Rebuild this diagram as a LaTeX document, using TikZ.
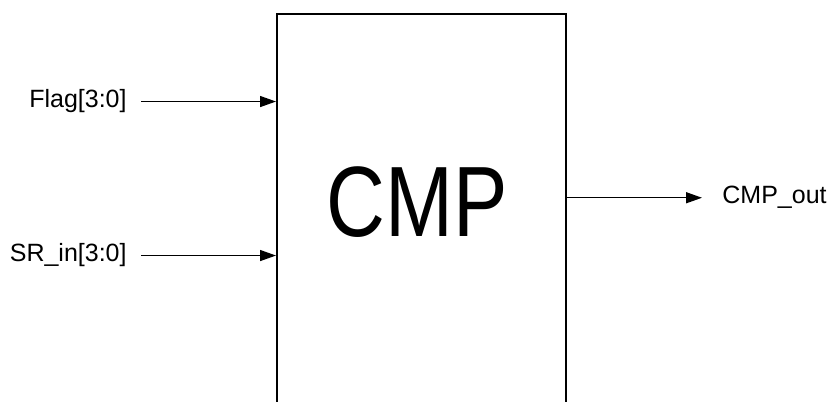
\documentclass[tikz,border=0pt]{standalone}
\usepackage{fontspec}
\setmainfont{Liberation Sans}
\usetikzlibrary{arrows.meta}

\begin{document}
\begin{tikzpicture}[x=0.5pt,y=0.5pt,
  wire/.style={line width=0.7pt,-{Triangle[length=8pt,width=5.5pt]}},
  port/.style={font=\fontsize{12.5}{15}\selectfont,inner ysep=0pt}]
\useasboundingbox (0,0) rectangle (834,401);
\clip (0,0) rectangle (834,401);

\def\flagy{293}
\def\sry{139}
\def\outy{197}

% comparator block, bottom edge runs off the page
\node[draw,line width=1pt,minimum width=144.5pt,minimum height=203.5pt,inner sep=0pt] (cmp) at (421.5,183.5) {};
\node[anchor=base,xscale=0.815,font=\fontsize{50}{60}\selectfont] (name) at (417.5,164) {CMP};

% inputs
\node[port,anchor=base east,inner xsep=7pt] (flag) at (141,\flagy) {Flag[3:0]};
\node[port,anchor=base east,inner xsep=7pt] (srin) at (141,\sry) {SR\_in[3:0]};
\draw[wire] (flag.east) -- (flag.east -| cmp.west);
\draw[wire] (srin.east) -- (srin.east -| cmp.west);

% output
\node[port,anchor=base west,inner xsep=10pt] (out) at (702,\outy) {CMP\_out};
\draw[wire] (out.west -| cmp.east) -- (out.west);

\end{tikzpicture}
\end{document}
